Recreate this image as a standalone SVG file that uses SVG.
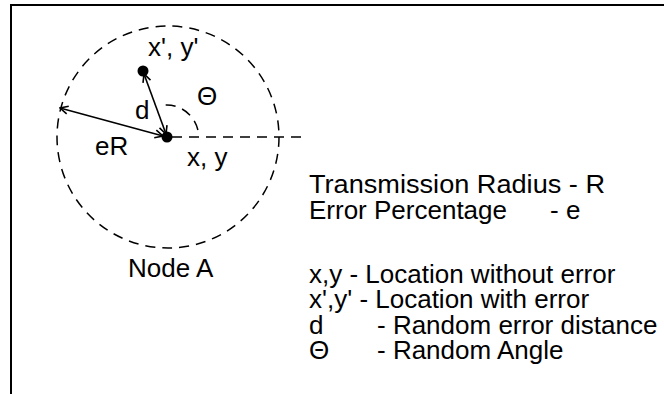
<svg xmlns="http://www.w3.org/2000/svg" width="664" height="394" viewBox="0 0 664 394">
  <defs>
    <marker id="vhead" viewBox="0 0 10 10" refX="9" refY="5" markerWidth="10" markerHeight="10" markerUnits="userSpaceOnUse" orient="auto-start-reverse">
      <path d="M1,1 L9,5 L1,9" fill="none" stroke="#000" stroke-width="1.6"/>
    </marker>
    <style>
      text { font-family: "Liberation Sans", Arial, sans-serif; font-size: 26px; fill: #000; }
      .dash { fill: none; stroke: #000; stroke-width: 1.5; stroke-dasharray: 10 7; }
      .solid { fill: none; stroke: #000; stroke-width: 1.6; }
      .frame { fill: none; stroke: #000; stroke-width: 2; }
    </style>
  </defs>
  <rect width="664" height="394" fill="#fff"/>
  <path class="frame" d="M11,394 L11,5 L664,5"/>

  <g id="node-a">
    <circle class="dash" cx="168" cy="137" r="111"/>
    <text x="128" y="277">Node A</text>
  </g>

  <g id="true-location">
    <circle cx="167" cy="137" r="5.5" fill="#000"/>
    <text x="187" y="166" font-size="25">x, y</text>
  </g>

  <g id="error-location">
    <circle cx="143" cy="71" r="5.5" fill="#000"/>
    <text x="148" y="56" font-size="25">x', y'</text>
  </g>

  <g id="connectors">
    <line class="dash" stroke-dasharray="12 6" x1="172" y1="137" x2="306" y2="137"/>
    <line class="solid" x1="166" y1="134" x2="144" y2="74" marker-start="url(#vhead)" marker-end="url(#vhead)"/>
    <line class="solid" x1="163" y1="136" x2="60" y2="108" marker-start="url(#vhead)" marker-end="url(#vhead)"/>
    <path class="dash" stroke-dasharray="7 6" d="M197.9,130 A32,32 0 0 0 161.4,105.5"/>
    <text x="135" y="119" font-size="25">d</text>
    <text x="95" y="155" font-size="25">eR</text>
    <text x="197" y="105" font-size="23">Θ</text>
  </g>

  <g id="legend">
    <text x="309" y="193" textLength="296" lengthAdjust="spacingAndGlyphs">Transmission Radius - R</text>
    <text x="309" y="219">Error Percentage</text>
    <text x="550" y="219">- e</text>
    <text x="309" y="283">x,y - Location without error</text>
    <text x="309" y="308">x',y' - Location with error</text>
    <text x="309" y="334">d</text>
    <text x="377" y="334">- Random error distance</text>
    <text x="309" y="359">Θ</text>
    <text x="377" y="359">- Random Angle</text>
  </g>
</svg>
